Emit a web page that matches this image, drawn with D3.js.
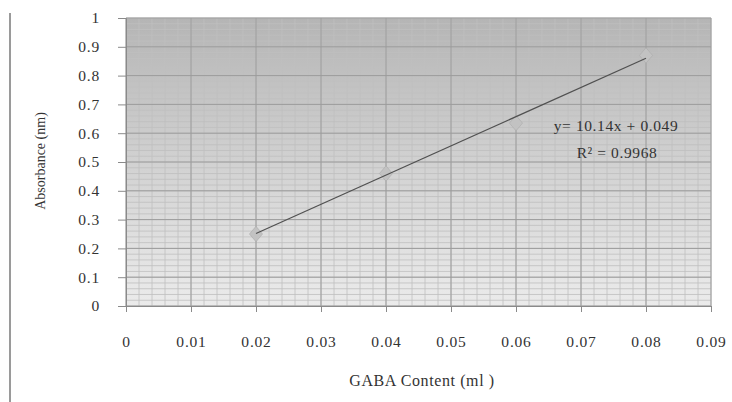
<!DOCTYPE html>
<html><head><meta charset="utf-8">
<script src="https://cdn.jsdelivr.net/npm/d3@7"></script>
<style>body{margin:0;background:#fff}svg{display:block}text{font-family:"Liberation Serif","DejaVu Serif",serif;fill:#333}</style>
</head><body>
<svg id="c" width="732" height="402"></svg>
<script>
const xValues = [0.02, 0.04, 0.06, 0.08];
const yValues = [0.25, 0.46, 0.635, 0.87];
const xTicks = [0, 0.01, 0.02, 0.03, 0.04, 0.05, 0.06, 0.07, 0.08, 0.09];
const yTicks = [0, 0.1, 0.2, 0.3, 0.4, 0.5, 0.6, 0.7, 0.8, 0.9, 1];
const slope = 10.14, intercept = 0.049;
const eqLabel = "y= 10.14x + 0.049";
const r2Label = "R² = 0.9968";
const xTitle = "GABA Content (ml )";
const yTitle = "Absorbance (nm)";

const svg = d3.select("#c");
const m = {l:126, r:711, t:18, b:306};
const x = d3.scaleLinear().domain([0,0.09]).range([m.l,m.r]);
const y = d3.scaleLinear().domain([0,1]).range([m.b,m.t]);

svg.append("line").attr("x1",10).attr("x2",10).attr("y1",13).attr("y2",402).attr("stroke","#9a9a9a").attr("stroke-width",2);

const defs = svg.append("defs");
const g = defs.append("linearGradient").attr("id","bg").attr("x1",0).attr("x2",0).attr("y1",0).attr("y2",1);
g.append("stop").attr("offset","0%").attr("stop-color","#b5b5b5");
g.append("stop").attr("offset","55%").attr("stop-color","#d4d4d4");
g.append("stop").attr("offset","100%").attr("stop-color","#ebebeb");
svg.append("rect").attr("x",m.l).attr("y",m.t).attr("width",m.r-m.l).attr("height",m.b-m.t).attr("fill","url(#bg)");

const minorX = d3.range(0, 0.0901, 0.002);
const minorY = d3.range(0, 1.0001, 0.02);
svg.append("g").selectAll("line").data(minorX).join("line")
  .attr("x1",d=>x(d)).attr("x2",d=>x(d)).attr("y1",m.t).attr("y2",m.b)
  .attr("stroke","#bfbfbf").attr("stroke-width",0.8);
svg.append("g").selectAll("line").data(minorY).join("line")
  .attr("x1",m.l).attr("x2",m.r).attr("y1",d=>y(d)).attr("y2",d=>y(d))
  .attr("stroke","#bfbfbf").attr("stroke-width",0.8);
svg.append("g").selectAll("line").data(xTicks).join("line")
  .attr("x1",d=>x(d)).attr("x2",d=>x(d)).attr("y1",m.t).attr("y2",m.b)
  .attr("stroke","#9c9c9c").attr("stroke-width",1);
svg.append("g").selectAll("line").data(yTicks).join("line")
  .attr("x1",m.l).attr("x2",m.r).attr("y1",d=>y(d)).attr("y2",d=>y(d))
  .attr("stroke","#9c9c9c").attr("stroke-width",1);

const fmt = d => d3.format("~g")(+d.toFixed(2));
const xa = svg.append("g").attr("transform",`translate(0,${m.b})`)
  .call(d3.axisBottom(x).tickValues(xTicks).tickFormat(fmt).tickSize(6).tickPadding(24));
xa.select(".domain").attr("stroke","#8a8a8a");
xa.selectAll(".tick line").attr("stroke","#8a8a8a");
xa.selectAll("text").attr("font-size",15.5).attr("letter-spacing",0.8).attr("fill","#333").attr("font-family","Liberation Serif");
const ya = svg.append("g").attr("transform",`translate(${m.l},0)`)
  .call(d3.axisLeft(y).tickValues(yTicks).tickFormat(fmt).tickSize(8).tickPadding(18));
ya.select(".domain").attr("stroke","#8a8a8a");
ya.selectAll(".tick line").attr("stroke","#8a8a8a");
ya.selectAll("text").attr("font-size",15.5).attr("letter-spacing",0.8).attr("fill","#333").attr("font-family","Liberation Serif");

const sym = d3.symbol().type(d3.symbolDiamond).size(95);
svg.append("g").selectAll("path").data(xValues).join("path")
  .attr("d",sym).attr("transform",(d,i)=>`translate(${x(d)},${y(yValues[i])}) scale(1.25,0.85)`)
  .attr("fill","#c2c2c2").attr("stroke","#acacac").attr("stroke-width",0.6);
svg.append("line")
  .attr("x1",x(xValues[0])).attr("y1",y(slope*xValues[0]+intercept))
  .attr("x2",x(xValues[xValues.length-1])).attr("y2",y(slope*xValues[xValues.length-1]+intercept))
  .attr("stroke","#505050").attr("stroke-width",1.2);

svg.append("text").attr("x",616).attr("y",131).attr("text-anchor","middle").attr("font-size",15.5).attr("letter-spacing",0.6).text(eqLabel);
svg.append("text").attr("x",617).attr("y",158).attr("text-anchor","middle").attr("font-size",15.5).attr("letter-spacing",0.6).text(r2Label);
svg.append("text").attr("x",422).attr("y",386).attr("text-anchor","middle").attr("font-size",16).attr("letter-spacing",0.6).text(xTitle);
svg.append("text").attr("transform","translate(45,161) rotate(-90)").attr("text-anchor","middle").attr("font-size",14).text(yTitle);
</script>
</body></html>
